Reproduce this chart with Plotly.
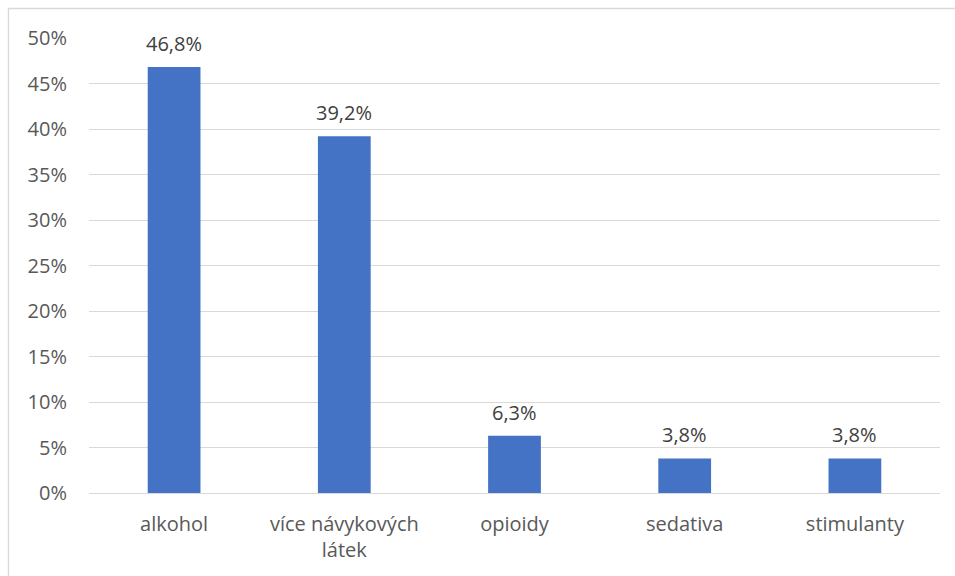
import plotly.graph_objects as go

categories = ["alkohol", "více návykových<br>látek", "opioidy", "sedativa", "stimulanty"]
values = [46.8, 39.2, 6.3, 3.8, 3.8]
labels = ["46,8%", "39,2%", "6,3%", "3,8%", "3,8%"]
tick_vals = [0, 5, 10, 15, 20, 25, 30, 35, 40, 45, 50]
tick_text = ["0%", "5%", "10%", "15%", "20%", "25%", "30%", "35%", "40%", "45%", "50%"]

FONT = "Open Sans, Noto Sans, sans-serif"
FS = 20
W, H = 955, 576
L, R, T, B = 89, 15, 38, 83
pw, ph = W - L - R, H - T - B

fig = go.Figure(go.Bar(
    x=categories, y=values,
    marker=dict(color="#4472C4", line=dict(width=0)),
    width=0.31,
))

for c, v, t in zip(categories, values, labels):
    fig.add_annotation(x=c, y=v, text=t, showarrow=False, yanchor="bottom",
                       yshift=8, font=dict(size=FS, color="#404040", family=FONT))

def px_x(p):
    return (p - L) / pw

def px_y(p):
    return (H - B - p) / ph

fig.add_shape(type="rect", xref="paper", yref="paper",
              x0=px_x(8.5), x1=px_x(970), y0=px_y(590), y1=px_y(8.5),
              line=dict(color="#D9D9D9", width=1.3), layer="below")

fig.update_layout(
    width=W, height=H,
    margin=dict(l=L, r=R, t=T, b=B),
    plot_bgcolor="white", paper_bgcolor="white",
    showlegend=False,
    font=dict(family=FONT, size=FS, color="#595959"),
    xaxis=dict(showgrid=False, showline=False, ticks="", tickfont=dict(size=FS, color="#595959"),
               ticklabelstandoff=17),
    yaxis=dict(range=[0, 50], tickvals=tick_vals, ticktext=tick_text,
               showgrid=True, gridcolor="#D9D9D9", gridwidth=1,
               zeroline=True, zerolinecolor="#D9D9D9", zerolinewidth=1,
               showline=False, ticks="", tickfont=dict(size=FS, color="#595959"),
               ticklabelstandoff=21),
)

fig.write_html("out.html")
